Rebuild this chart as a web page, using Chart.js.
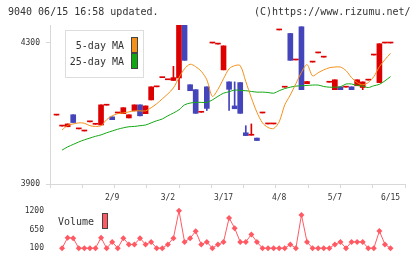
<!DOCTYPE html>
<html>
<head>
<meta charset="utf-8">
<script src="https://cdn.jsdelivr.net/npm/chart.js@4/dist/chart.umd.min.js"></script>
<style>
body { margin: 0; background: #fff; }
#wrap { position: relative; width: 420px; height: 259px; overflow: hidden; font-family: "DejaVu Sans Mono", monospace; font-size: 10px; color: #333; }
canvas { position: absolute; left: 0; }
#price { top: 0; }
#vol { top: 200px; }
.txt { position: absolute; line-height: 12px; white-space: nowrap; }
.sw { position: absolute; border: 1px solid #444; }
#legend { position: absolute; left: 65px; top: 30px; width: 77px; height: 46px; border: 1px solid #ddd; background: #fff; }
</style>
</head>
<body>
<div id="wrap">
  <canvas id="price" width="420" height="210"></canvas>
  <canvas id="vol" width="420" height="59"></canvas>
  <div class="txt" style="left:8px; top:6px;">9040 06/15 16:58 updated.</div>
  <div class="txt" style="left:254px; top:6px;">(C)https://www.rizumu.net/</div>
  <div id="legend"></div>
  <div class="txt" style="left:60px; width:64px; text-align:right; top:40px;">5-day MA</div>
  <div class="sw" style="left:131px; top:37px; width:5px; height:14px; background:#f39019;"></div>
  <div class="txt" style="left:60px; width:64px; text-align:right; top:56px;">25-day MA</div>
  <div class="sw" style="left:131px; top:53px; width:5px; height:14px; background:#13a813;"></div>
  <div class="txt" style="left:58px; top:216px;">Volume</div>
  <div class="sw" style="left:102px; top:213px; width:4px; height:14px; background:#ff5a64;"></div>
</div>
<script>
// daily prices, oldest first (61 sessions)
var opens  = [4095,4064,4062,4096,4056,4050,4076,4069,4067,4123,
              4090,4101,4099,4087,4107,4124,4099,4138,4175,4201,
              4195,4193,4200,4350,4181,4167,4103,4175,4299,4296,
              4223,4189,4121,4187,4045,4038,4030,4101,4070,4070,
              4336,4174,4326,4251,4345,4184,4245,4271,4259,4188,
              4167,4175,4174,4175,4178,4173,4194,4265,4187,4299,4299];
var highs  = [4095,4064,4070,4096,4056,4050,4076,4069,4124,4123,
              4090,4101,4116,4096,4124,4124,4121,4175,4175,4201,
              4195,4233,4350,4350,4181,4167,4103,4175,4299,4296,
              4291,4189,4189,4187,4065,4070,4030,4101,4070,4070,
              4336,4174,4326,4251,4345,4190,4245,4271,4259,4188,
              4195,4175,4174,4175,4195,4189,4194,4265,4297,4299,4299];
var lows   = [4095,4064,4062,4074,4056,4050,4076,4069,4067,4123,
              4082,4101,4099,4087,4107,4093,4099,4138,4175,4201,
              4195,4193,4167,4250,4164,4100,4103,4108,4299,4296,
              4223,4108,4113,4100,4037,4038,4023,4101,4070,4070,
              4336,4174,4250,4251,4167,4184,4245,4271,4259,4188,
              4167,4167,4174,4167,4178,4167,4194,4265,4187,4299,4299];
var closes = [4095,4064,4070,4074,4056,4050,4076,4069,4124,4123,
              4082,4101,4116,4096,4124,4093,4121,4175,4175,4201,
              4195,4201,4350,4250,4164,4100,4103,4114,4299,4296,
              4291,4168,4113,4100,4037,4038,4023,4101,4070,4070,
              4336,4174,4250,4251,4167,4190,4245,4271,4259,4188,
              4195,4167,4174,4167,4195,4189,4194,4265,4297,4299,4299];
var ma5    = [null,4053,4066,4070,4073,4072,4065,4063,4065,4082,
              4093,4099,4101,4104,4107,4107,4107,4116,4127,4141,
              4155,4172,4201,4226,4239,4232,4219,4195,4148,4168,
              4198,4226,4235,4235,4190,4144,4103,4073,4060,4057,
              4076,4124,4152,4184,4216,4238,4206,4215,4223,4229,
              4231,4231,4221,4201,4187,4181,4187,4204,4232,4252,4270];
var ma25   = [null,3996,4005,4012,4019,4025,4030,4035,4039,4045,
              4050,4055,4059,4062,4063,4065,4067,4073,4079,4084,
              4093,4101,4110,4124,4129,4131,4131,4131,4138,4148,
              4157,4161,4166,4165,4164,4162,4160,4160,4159,4157,
              4164,4170,4174,4177,4178,4179,4180,4180,4176,4174,
              4174,4175,4183,4183,4179,4177,4173,4178,4182,4192,4204];
var volumes = [null,100,410,395,100,100,100,100,410,100,
               285,100,395,210,210,395,210,285,100,100,
               210,395,1200,285,395,595,210,285,100,210,
               285,990,690,285,285,505,285,100,100,100,
               100,100,210,100,1080,285,100,100,100,100,
               210,285,100,285,285,285,100,100,605,210,100];
var dateDays = [10, 20, 30, 40, 50, 60];
var dateLabels = ['2/9', '3/2', '3/17', '4/8', '5/7', '6/15'];
var priceTicks = [3900, 4300];
var volTicks = [100, 650, 1200];

var xMin = -1.17, xMax = 62.6;
var RED = '#dd0000', BLUE = '#4444bb', GRIDC = '#d8d8d8';
Chart.defaults.font.family = "'DejaVu Sans Mono', monospace";
Chart.defaults.color = '#333';

function pts(arr) {
  return arr.map(function (v, i) { return { x: i, y: v }; });
}
function plain(v) { return String(v); }
var candleColors = opens.map(function (o, i) { return closes[i] >= o ? RED : BLUE; });

new Chart(document.getElementById('price'), {
  type: 'bar',
  data: {
    datasets: [
      { type: 'line', label: '5-day MA', data: pts(ma5), borderColor: '#f39019', borderWidth: 1,
        pointRadius: 0, tension: 0.3, order: 1 },
      { type: 'line', label: '25-day MA', data: pts(ma25), borderColor: '#13a813', borderWidth: 1,
        pointRadius: 0, tension: 0.3, order: 2 },
      { label: 'body', data: opens.map(function (o, i) { return { x: i, y: [o, closes[i]] }; }),
        backgroundColor: candleColors, barThickness: 5, minBarLength: 1, grouped: false, order: 3 },
      { label: 'wick', data: lows.map(function (l, i) { return { x: i, y: [l, highs[i]] }; }),
        backgroundColor: candleColors, barThickness: 1, grouped: false, order: 4 }
    ]
  },
  options: {
    responsive: false,
    animation: false,
    layout: { padding: { top: 25, right: 15, left: 0, bottom: 0 } },
    plugins: { legend: { display: false }, tooltip: { enabled: false } },
    scales: {
      x: {
        type: 'linear', axis: 'x', position: 'bottom', min: xMin, max: xMax, offset: false,
        ticks: { display: false },
        grid: { drawOnChartArea: false, tickLength: 4, color: GRIDC, offset: false },
        border: { color: GRIDC },
        afterBuildTicks: function (s) {
          var t = [];
          for (var k = 0; k <= 11; k++) t.push({ value: xMin + k * (xMax - xMin) / 11 });
          s.ticks = t;
        },
        afterFit: function (s) { s.height = 4; }
      },
      xl: {
        type: 'linear', axis: 'x', position: 'bottom', min: xMin, max: xMax, offset: false,
        grid: { display: false, drawTicks: false, offset: false },
        border: { display: false },
        ticks: {
          font: { size: 8 }, padding: 5, autoSkip: false, maxRotation: 0,
          callback: function (v, i) { return dateLabels[i]; }
        },
        afterBuildTicks: function (s) { s.ticks = dateDays.map(function (d) { return { value: d }; }); },
        afterFit: function (s) { s.height = 22; }
      },
      y: {
        min: 3900, max: 4350,
        grid: { drawOnChartArea: false, tickLength: 4, color: GRIDC },
        border: { color: GRIDC },
        ticks: { font: { size: 8 }, padding: 6, callback: plain },
        afterBuildTicks: function (s) { s.ticks = priceTicks.map(function (v) { return { value: v }; }); },
        afterFit: function (s) { s.width = 50; }
      }
    }
  }
});

new Chart(document.getElementById('vol'), {
  type: 'line',
  data: {
    datasets: [{
      label: 'Volume', data: pts(volumes), borderColor: '#ff5a64', backgroundColor: '#ff5a64',
      borderWidth: 1, pointStyle: 'rectRot', pointRadius: 3, pointBorderWidth: 0, tension: 0, clip: false
    }]
  },
  options: {
    responsive: false,
    animation: false,
    layout: { padding: { top: 9, right: 15, left: 0, bottom: 10 } },
    plugins: { legend: { display: false }, tooltip: { enabled: false } },
    scales: {
      x: { type: 'linear', min: xMin, max: xMax, display: false },
      y: {
        min: 100, max: 1200,
        grid: { display: false, drawTicks: false },
        border: { display: false },
        ticks: { font: { size: 8 }, padding: 6, callback: plain },
        afterBuildTicks: function (s) { s.ticks = volTicks.map(function (v) { return { value: v }; }); },
        afterFit: function (s) { s.width = 50; }
      }
    }
  }
});
</script>
</body>
</html>
